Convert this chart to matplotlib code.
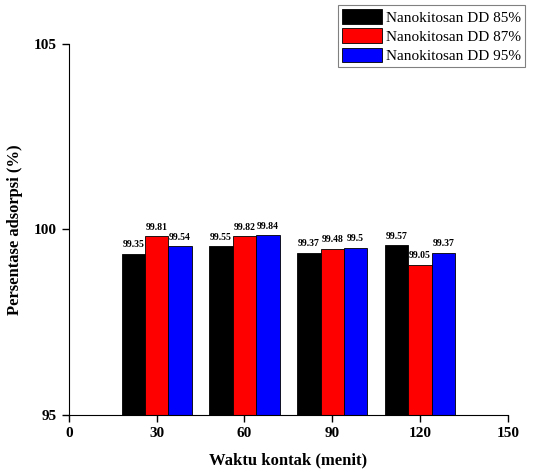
import matplotlib
matplotlib.use("Agg")
import matplotlib.pyplot as plt
import numpy as np

# data
waktu = [30, 60, 90, 120]
dd85 = [99.35, 99.55, 99.37, 99.57]
dd87 = [99.81, 99.82, 99.48, 99.05]
dd95 = [99.54, 99.84, 99.5, 99.37]
seri_label = ["Nanokitosan DD 85%", "Nanokitosan DD 87%", "Nanokitosan DD 95%"]
warna = ["black", "red", "blue"]

plt.rcParams['font.family'] = ['Liberation Serif', 'DejaVu Serif']

fig = plt.figure(figsize=(5.42, 4.72), dpi=100)
ax = fig.add_axes([0.127, 0.121, 0.810, 0.786])

lebar = 8
x = np.array(waktu)
for i, (vals, lab, c) in enumerate(zip([dd85, dd87, dd95], seri_label, warna)):
    ax.bar(x + (i - 1) * lebar, np.array(vals) - 95, bottom=95, width=lebar,
           color=c, edgecolor="black", linewidth=0.6, label=lab)
    for xi, v in zip(x + (i - 1) * lebar, vals):
        ax.text(xi, v + 0.12, f"{v:g}", ha="center", va="bottom",
                fontsize=7, fontweight="bold")

ax.set_xlim(0, 150)
ax.set_ylim(95, 105)
ax.set_xticks([0, 30, 60, 90, 120, 150])
ax.set_yticks([95, 100, 105])
ax.spines['top'].set_visible(False)
ax.spines['right'].set_visible(False)
ax.tick_params(direction="out", length=5, width=1, labelsize=11)
for t in ax.get_xticklabels() + ax.get_yticklabels():
    t.set_fontweight("bold")

ax.set_xlabel("Waktu kontak (menit)", fontsize=12, fontweight="bold", labelpad=9)
ax.set_ylabel("Persentase adsorpsi (%)", fontsize=12, fontweight="bold", labelpad=8)

leg = fig.legend(loc="upper right", bbox_to_anchor=(0.969, 0.989), fontsize=11,
                 fancybox=False, edgecolor="gray", framealpha=1,
                 handlelength=2.6, handleheight=1.1, handletextpad=0.3,
                 labelspacing=0.25, borderpad=0.25, borderaxespad=0)
leg.get_frame().set_linewidth(0.8)

fig.savefig("out.png", dpi=100)
